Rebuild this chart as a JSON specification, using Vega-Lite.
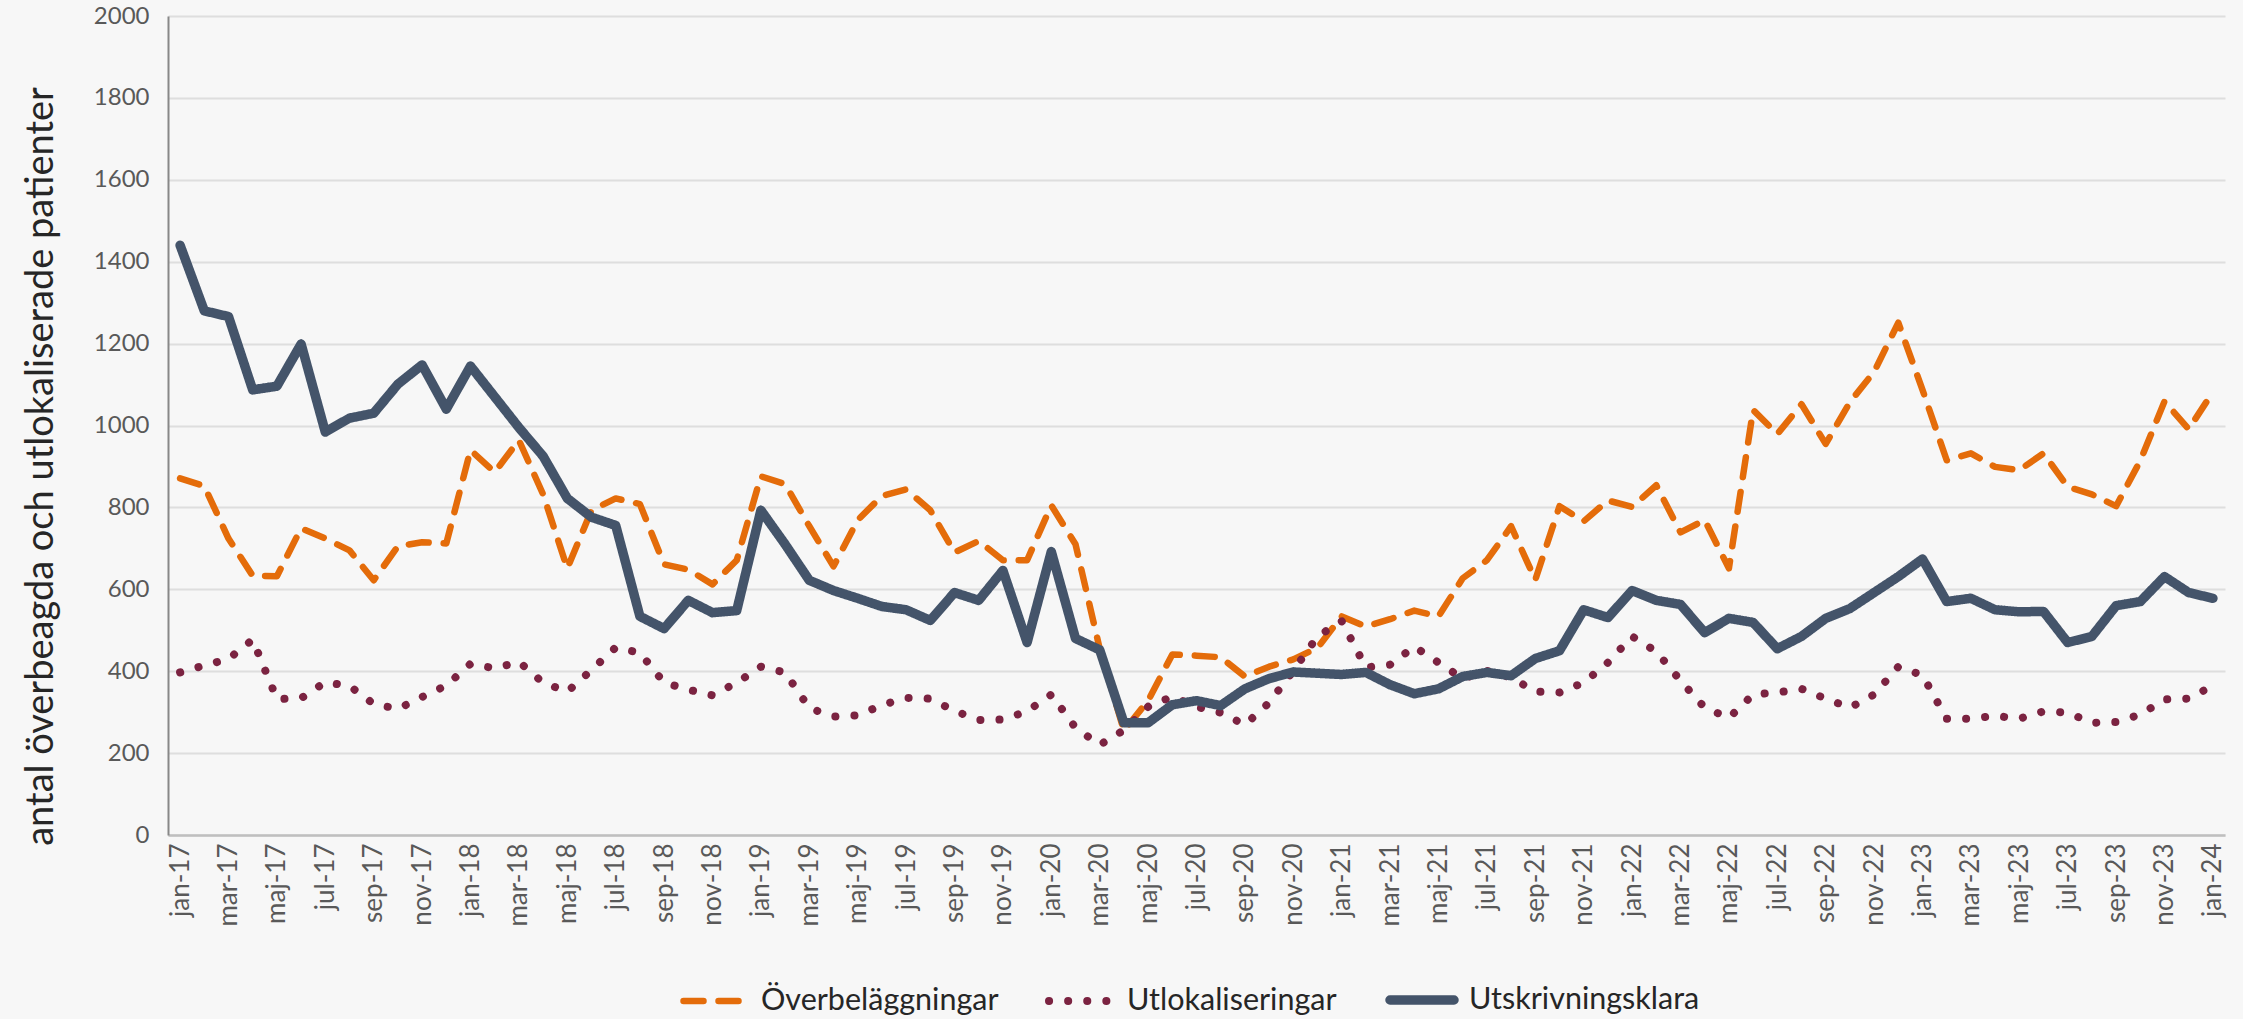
{
  "$schema": "https://vega.github.io/schema/vega-lite/v6.json",
  "width": 2057,
  "height": 819,
  "autosize": {"type": "none"},
  "padding": {"left": 168, "top": 16, "right": 18, "bottom": 184},
  "background": "#f7f7f7",
  "config": {"font": "Lato", "view": {"stroke": null}},
  "data": {"values": [
    {"m":"jan-17","s":"Överbeläggningar","v":871},{"m":"feb-17","s":"Överbeläggningar","v":852},{"m":"mar-17","s":"Överbeläggningar","v":724},{"m":"apr-17","s":"Överbeläggningar","v":633},{"m":"maj-17","s":"Överbeläggningar","v":632},{"m":"jun-17","s":"Överbeläggningar","v":749},{"m":"jul-17","s":"Överbeläggningar","v":724},{"m":"aug-17","s":"Överbeläggningar","v":695},{"m":"sep-17","s":"Överbeläggningar","v":622},{"m":"okt-17","s":"Överbeläggningar","v":705},{"m":"nov-17","s":"Överbeläggningar","v":715},{"m":"dec-17","s":"Överbeläggningar","v":712},
    {"m":"jan-18","s":"Överbeläggningar","v":940},{"m":"feb-18","s":"Överbeläggningar","v":886},{"m":"mar-18","s":"Överbeläggningar","v":964},{"m":"apr-18","s":"Överbeläggningar","v":832},{"m":"maj-18","s":"Överbeläggningar","v":651},{"m":"jun-18","s":"Överbeläggningar","v":793},{"m":"jul-18","s":"Överbeläggningar","v":822},{"m":"aug-18","s":"Överbeläggningar","v":808},{"m":"sep-18","s":"Överbeläggningar","v":661},{"m":"okt-18","s":"Överbeläggningar","v":648},{"m":"nov-18","s":"Överbeläggningar","v":612},{"m":"dec-18","s":"Överbeläggningar","v":671},
    {"m":"jan-19","s":"Överbeläggningar","v":876},{"m":"feb-19","s":"Överbeläggningar","v":857},{"m":"mar-19","s":"Överbeläggningar","v":754},{"m":"apr-19","s":"Överbeläggningar","v":656},{"m":"maj-19","s":"Överbeläggningar","v":769},{"m":"jun-19","s":"Överbeläggningar","v":828},{"m":"jul-19","s":"Överbeläggningar","v":844},{"m":"aug-19","s":"Överbeläggningar","v":793},{"m":"sep-19","s":"Överbeläggningar","v":690},{"m":"okt-19","s":"Överbeläggningar","v":718},{"m":"nov-19","s":"Överbeläggningar","v":671},{"m":"dec-19","s":"Överbeläggningar","v":671},
    {"m":"jan-20","s":"Överbeläggningar","v":805},{"m":"feb-20","s":"Överbeläggningar","v":710},{"m":"mar-20","s":"Överbeläggningar","v":455},{"m":"apr-20","s":"Överbeläggningar","v":255},{"m":"maj-20","s":"Överbeläggningar","v":328},{"m":"jun-20","s":"Överbeläggningar","v":441},{"m":"jul-20","s":"Överbeläggningar","v":438},{"m":"aug-20","s":"Överbeläggningar","v":434},{"m":"sep-20","s":"Överbeläggningar","v":387},{"m":"okt-20","s":"Överbeläggningar","v":411},{"m":"nov-20","s":"Överbeläggningar","v":429},{"m":"dec-20","s":"Överbeläggningar","v":457},
    {"m":"jan-21","s":"Överbeläggningar","v":534},{"m":"feb-21","s":"Överbeläggningar","v":509},{"m":"mar-21","s":"Överbeläggningar","v":527},{"m":"apr-21","s":"Överbeläggningar","v":548},{"m":"maj-21","s":"Överbeläggningar","v":534},{"m":"jun-21","s":"Överbeläggningar","v":627},{"m":"jul-21","s":"Överbeläggningar","v":671},{"m":"aug-21","s":"Överbeläggningar","v":754},{"m":"sep-21","s":"Överbeläggningar","v":623},{"m":"okt-21","s":"Överbeläggningar","v":803},{"m":"nov-21","s":"Överbeläggningar","v":766},{"m":"dec-21","s":"Överbeläggningar","v":817},
    {"m":"jan-22","s":"Överbeläggningar","v":801},{"m":"feb-22","s":"Överbeläggningar","v":854},{"m":"mar-22","s":"Överbeläggningar","v":739},{"m":"apr-22","s":"Överbeläggningar","v":769},{"m":"maj-22","s":"Överbeläggningar","v":651},{"m":"jun-22","s":"Överbeläggningar","v":1038},{"m":"jul-22","s":"Överbeläggningar","v":979},{"m":"aug-22","s":"Överbeläggningar","v":1052},{"m":"sep-22","s":"Överbeläggningar","v":955},{"m":"okt-22","s":"Överbeläggningar","v":1057},{"m":"nov-22","s":"Överbeläggningar","v":1131},{"m":"dec-22","s":"Överbeläggningar","v":1251},
    {"m":"jan-23","s":"Överbeläggningar","v":1087},{"m":"feb-23","s":"Överbeläggningar","v":915},{"m":"mar-23","s":"Överbeläggningar","v":932},{"m":"apr-23","s":"Överbeläggningar","v":899},{"m":"maj-23","s":"Överbeläggningar","v":891},{"m":"jun-23","s":"Överbeläggningar","v":932},{"m":"jul-23","s":"Överbeläggningar","v":850},{"m":"aug-23","s":"Överbeläggningar","v":832},{"m":"sep-23","s":"Överbeläggningar","v":803},{"m":"okt-23","s":"Överbeläggningar","v":914},{"m":"nov-23","s":"Överbeläggningar","v":1059},{"m":"dec-23","s":"Överbeläggningar","v":991},
    {"m":"jan-24","s":"Överbeläggningar","v":1082},
    {"m":"jan-17","s":"Utlokaliseringar","v":397},{"m":"feb-17","s":"Utlokaliseringar","v":414},{"m":"mar-17","s":"Utlokaliseringar","v":430},{"m":"apr-17","s":"Utlokaliseringar","v":477},{"m":"maj-17","s":"Utlokaliseringar","v":332},{"m":"jun-17","s":"Utlokaliseringar","v":334},{"m":"jul-17","s":"Utlokaliseringar","v":373},{"m":"aug-17","s":"Utlokaliseringar","v":364},{"m":"sep-17","s":"Utlokaliseringar","v":320},{"m":"okt-17","s":"Utlokaliseringar","v":308},{"m":"nov-17","s":"Utlokaliseringar","v":337},{"m":"dec-17","s":"Utlokaliseringar","v":365},
    {"m":"jan-18","s":"Utlokaliseringar","v":418},{"m":"feb-18","s":"Utlokaliseringar","v":407},{"m":"mar-18","s":"Utlokaliseringar","v":423},{"m":"apr-18","s":"Utlokaliseringar","v":372},{"m":"maj-18","s":"Utlokaliseringar","v":350},{"m":"jun-18","s":"Utlokaliseringar","v":403},{"m":"jul-18","s":"Utlokaliseringar","v":458},{"m":"aug-18","s":"Utlokaliseringar","v":445},{"m":"sep-18","s":"Utlokaliseringar","v":372},{"m":"okt-18","s":"Utlokaliseringar","v":355},{"m":"nov-18","s":"Utlokaliseringar","v":341},{"m":"dec-18","s":"Utlokaliseringar","v":372},
    {"m":"jan-19","s":"Utlokaliseringar","v":411},{"m":"feb-19","s":"Utlokaliseringar","v":397},{"m":"mar-19","s":"Utlokaliseringar","v":310},{"m":"apr-19","s":"Utlokaliseringar","v":289},{"m":"maj-19","s":"Utlokaliseringar","v":292},{"m":"jun-19","s":"Utlokaliseringar","v":317},{"m":"jul-19","s":"Utlokaliseringar","v":335},{"m":"aug-19","s":"Utlokaliseringar","v":333},{"m":"sep-19","s":"Utlokaliseringar","v":303},{"m":"okt-19","s":"Utlokaliseringar","v":281},{"m":"nov-19","s":"Utlokaliseringar","v":282},{"m":"dec-19","s":"Utlokaliseringar","v":302},
    {"m":"jan-20","s":"Utlokaliseringar","v":343},{"m":"feb-20","s":"Utlokaliseringar","v":262},{"m":"mar-20","s":"Utlokaliseringar","v":220},{"m":"apr-20","s":"Utlokaliseringar","v":256},{"m":"maj-20","s":"Utlokaliseringar","v":313},{"m":"jun-20","s":"Utlokaliseringar","v":338},{"m":"jul-20","s":"Utlokaliseringar","v":313},{"m":"aug-20","s":"Utlokaliseringar","v":299},{"m":"sep-20","s":"Utlokaliseringar","v":269},{"m":"okt-20","s":"Utlokaliseringar","v":323},{"m":"nov-20","s":"Utlokaliseringar","v":401},{"m":"dec-20","s":"Utlokaliseringar","v":485},
    {"m":"jan-21","s":"Utlokaliseringar","v":522},{"m":"feb-21","s":"Utlokaliseringar","v":409},{"m":"mar-21","s":"Utlokaliseringar","v":416},{"m":"apr-21","s":"Utlokaliseringar","v":460},{"m":"maj-21","s":"Utlokaliseringar","v":421},{"m":"jun-21","s":"Utlokaliseringar","v":382},{"m":"jul-21","s":"Utlokaliseringar","v":401},{"m":"aug-21","s":"Utlokaliseringar","v":385},{"m":"sep-21","s":"Utlokaliseringar","v":350},{"m":"okt-21","s":"Utlokaliseringar","v":348},{"m":"nov-21","s":"Utlokaliseringar","v":372},{"m":"dec-21","s":"Utlokaliseringar","v":421},
    {"m":"jan-22","s":"Utlokaliseringar","v":485},{"m":"feb-22","s":"Utlokaliseringar","v":448},{"m":"mar-22","s":"Utlokaliseringar","v":377},{"m":"apr-22","s":"Utlokaliseringar","v":311},{"m":"maj-22","s":"Utlokaliseringar","v":286},{"m":"jun-22","s":"Utlokaliseringar","v":343},{"m":"jul-22","s":"Utlokaliseringar","v":348},{"m":"aug-22","s":"Utlokaliseringar","v":357},{"m":"sep-22","s":"Utlokaliseringar","v":333},{"m":"okt-22","s":"Utlokaliseringar","v":311},{"m":"nov-22","s":"Utlokaliseringar","v":343},{"m":"dec-22","s":"Utlokaliseringar","v":411},
    {"m":"jan-23","s":"Utlokaliseringar","v":390},{"m":"feb-23","s":"Utlokaliseringar","v":284},{"m":"mar-23","s":"Utlokaliseringar","v":284},{"m":"apr-23","s":"Utlokaliseringar","v":291},{"m":"maj-23","s":"Utlokaliseringar","v":284},{"m":"jun-23","s":"Utlokaliseringar","v":302},{"m":"jul-23","s":"Utlokaliseringar","v":299},{"m":"aug-23","s":"Utlokaliseringar","v":274},{"m":"sep-23","s":"Utlokaliseringar","v":276},{"m":"okt-23","s":"Utlokaliseringar","v":294},{"m":"nov-23","s":"Utlokaliseringar","v":331},{"m":"dec-23","s":"Utlokaliseringar","v":333},
    {"m":"jan-24","s":"Utlokaliseringar","v":365},
    {"m":"jan-17","s":"Utskrivningsklara","v":1440},{"m":"feb-17","s":"Utskrivningsklara","v":1280},{"m":"mar-17","s":"Utskrivningsklara","v":1266},{"m":"apr-17","s":"Utskrivningsklara","v":1087},{"m":"maj-17","s":"Utskrivningsklara","v":1096},{"m":"jun-17","s":"Utskrivningsklara","v":1199},{"m":"jul-17","s":"Utskrivningsklara","v":984},{"m":"aug-17","s":"Utskrivningsklara","v":1018},{"m":"sep-17","s":"Utskrivningsklara","v":1030},{"m":"okt-17","s":"Utskrivningsklara","v":1101},{"m":"nov-17","s":"Utskrivningsklara","v":1148},{"m":"dec-17","s":"Utskrivningsklara","v":1040},
    {"m":"jan-18","s":"Utskrivningsklara","v":1145},{"m":"feb-18","s":"Utskrivningsklara","v":1070},{"m":"mar-18","s":"Utskrivningsklara","v":995},{"m":"apr-18","s":"Utskrivningsklara","v":925},{"m":"maj-18","s":"Utskrivningsklara","v":822},{"m":"jun-18","s":"Utskrivningsklara","v":776},{"m":"jul-18","s":"Utskrivningsklara","v":756},{"m":"aug-18","s":"Utskrivningsklara","v":534},{"m":"sep-18","s":"Utskrivningsklara","v":504},{"m":"okt-18","s":"Utskrivningsklara","v":573},{"m":"nov-18","s":"Utskrivningsklara","v":543},{"m":"dec-18","s":"Utskrivningsklara","v":548},
    {"m":"jan-19","s":"Utskrivningsklara","v":793},{"m":"feb-19","s":"Utskrivningsklara","v":710},{"m":"mar-19","s":"Utskrivningsklara","v":622},{"m":"apr-19","s":"Utskrivningsklara","v":597},{"m":"maj-19","s":"Utskrivningsklara","v":578},{"m":"jun-19","s":"Utskrivningsklara","v":558},{"m":"jul-19","s":"Utskrivningsklara","v":550},{"m":"aug-19","s":"Utskrivningsklara","v":524},{"m":"sep-19","s":"Utskrivningsklara","v":592},{"m":"okt-19","s":"Utskrivningsklara","v":573},{"m":"nov-19","s":"Utskrivningsklara","v":646},{"m":"dec-19","s":"Utskrivningsklara","v":470},
    {"m":"jan-20","s":"Utskrivningsklara","v":692},{"m":"feb-20","s":"Utskrivningsklara","v":480},{"m":"mar-20","s":"Utskrivningsklara","v":452},{"m":"apr-20","s":"Utskrivningsklara","v":274},{"m":"maj-20","s":"Utskrivningsklara","v":274},{"m":"jun-20","s":"Utskrivningsklara","v":318},{"m":"jul-20","s":"Utskrivningsklara","v":328},{"m":"aug-20","s":"Utskrivningsklara","v":316},{"m":"sep-20","s":"Utskrivningsklara","v":357},{"m":"okt-20","s":"Utskrivningsklara","v":382},{"m":"nov-20","s":"Utskrivningsklara","v":398},{"m":"dec-20","s":"Utskrivningsklara","v":395},
    {"m":"jan-21","s":"Utskrivningsklara","v":392},{"m":"feb-21","s":"Utskrivningsklara","v":397},{"m":"mar-21","s":"Utskrivningsklara","v":367},{"m":"apr-21","s":"Utskrivningsklara","v":345},{"m":"maj-21","s":"Utskrivningsklara","v":357},{"m":"jun-21","s":"Utskrivningsklara","v":387},{"m":"jul-21","s":"Utskrivningsklara","v":397},{"m":"aug-21","s":"Utskrivningsklara","v":389},{"m":"sep-21","s":"Utskrivningsklara","v":431},{"m":"okt-21","s":"Utskrivningsklara","v":450},{"m":"nov-21","s":"Utskrivningsklara","v":550},{"m":"dec-21","s":"Utskrivningsklara","v":531},
    {"m":"jan-22","s":"Utskrivningsklara","v":597},{"m":"feb-22","s":"Utskrivningsklara","v":573},{"m":"mar-22","s":"Utskrivningsklara","v":563},{"m":"apr-22","s":"Utskrivningsklara","v":494},{"m":"maj-22","s":"Utskrivningsklara","v":529},{"m":"jun-22","s":"Utskrivningsklara","v":519},{"m":"jul-22","s":"Utskrivningsklara","v":455},{"m":"aug-22","s":"Utskrivningsklara","v":485},{"m":"sep-22","s":"Utskrivningsklara","v":529},{"m":"okt-22","s":"Utskrivningsklara","v":553},{"m":"nov-22","s":"Utskrivningsklara","v":592},{"m":"dec-22","s":"Utskrivningsklara","v":631},
    {"m":"jan-23","s":"Utskrivningsklara","v":674},{"m":"feb-23","s":"Utskrivningsklara","v":570},{"m":"mar-23","s":"Utskrivningsklara","v":578},{"m":"apr-23","s":"Utskrivningsklara","v":550},{"m":"maj-23","s":"Utskrivningsklara","v":545},{"m":"jun-23","s":"Utskrivningsklara","v":546},{"m":"jul-23","s":"Utskrivningsklara","v":470},{"m":"aug-23","s":"Utskrivningsklara","v":485},{"m":"sep-23","s":"Utskrivningsklara","v":560},{"m":"okt-23","s":"Utskrivningsklara","v":570},{"m":"nov-23","s":"Utskrivningsklara","v":631},{"m":"dec-23","s":"Utskrivningsklara","v":592},
    {"m":"jan-24","s":"Utskrivningsklara","v":578}
  ]},
  "mark": {"type": "line", "strokeCap": "round", "strokeJoin": "round"},
  "encoding": {
    "x": {
      "field": "m", "type": "ordinal", "sort": null,
      "scale": {"type": "point", "padding": 0.5},
      "axis": {
        "title": null,
        "values": ["jan-17","mar-17","maj-17","jul-17","sep-17","nov-17","jan-18","mar-18","maj-18","jul-18","sep-18","nov-18","jan-19","mar-19","maj-19","jul-19","sep-19","nov-19","jan-20","mar-20","maj-20","jul-20","sep-20","nov-20","jan-21","mar-21","maj-21","jul-21","sep-21","nov-21","jan-22","mar-22","maj-22","jul-22","sep-22","nov-22","jan-23","mar-23","maj-23","jul-23","sep-23","nov-23","jan-24"],
        "labelAngle": -90, "labelFontSize": 26, "labelColor": "#595959", "labelPadding": 8,
        "ticks": false, "tickSize": 0, "grid": false,
        "domainColor": "#bfbfbf", "domainWidth": 2.5
      }
    },
    "y": {
      "field": "v", "type": "quantitative",
      "scale": {"domain": [0, 2000], "nice": false},
      "axis": {
        "values": [0,200,400,600,800,1000,1200,1400,1600,1800,2000],
        "format": "d",
        "title": "antal överbeagda och utlokaliserade patienter",
        "titleFontSize": 38, "titleFontWeight": "normal", "titleColor": "#262626",
        "titleAngle": -90, "titleX": -127, "titleY": 450, "titleAlign": "center", "titleBaseline": "middle",
        "labelFontSize": 24, "labelColor": "#595959", "labelPadding": 19,
        "ticks": false, "tickSize": 0,
        "grid": true, "gridColor": "#dedede", "gridWidth": 2,
        "domainColor": "#888888", "domainWidth": 2
      }
    },
    "color": {
      "field": "s", "type": "nominal",
      "scale": {"domain": ["Överbeläggningar","Utlokaliseringar","Utskrivningsklara"], "range": ["#E46C0A","#7B2341","#44546A"]},
      "legend": {
        "title": null, "orient": "none", "direction": "horizontal",
        "legendX": 512, "legendY": 947,
        "labelFontSize": 30.5, "labelColor": "#262626", "labelOffset": 10, "labelLimit": 600,
        "symbolType": "stroke", "symbolSize": 4096, "symbolStrokeWidth": 8,
        "columnPadding": 34,
        "encode": {"symbols": {"update": {"strokeCap": {"value": "round"}}}}
      }
    },
    "strokeDash": {
      "field": "s", "type": "nominal",
      "scale": {"domain": ["Överbeläggningar","Utlokaliseringar","Utskrivningsklara"], "range": [[20,15],[0.1,19],[1,0]]},
      "legend": {
        "title": null, "orient": "none", "direction": "horizontal",
        "legendX": 512, "legendY": 947,
        "labelFontSize": 30.5, "labelColor": "#262626", "labelOffset": 10, "labelLimit": 600,
        "symbolType": "stroke", "symbolSize": 4096, "symbolStrokeWidth": 8,
        "columnPadding": 34,
        "encode": {"symbols": {"update": {"strokeCap": {"value": "round"}}}}
      }
    },
    "strokeWidth": {
      "field": "s", "type": "nominal",
      "scale": {"domain": ["Överbeläggningar","Utlokaliseringar","Utskrivningsklara"], "range": [6.5, 9.5, 9]},
      "legend": null
    }
  }
}
